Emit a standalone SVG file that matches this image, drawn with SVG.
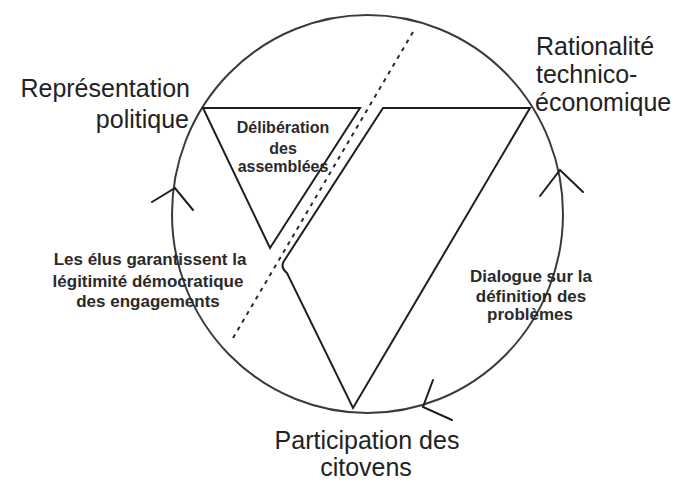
<svg xmlns="http://www.w3.org/2000/svg" width="678" height="483" viewBox="0 0 678 483">
  <style>
    .ln { fill: none; stroke: #1e1e1e; stroke-width: 2; stroke-linejoin: miter; stroke-linecap: round; }
    .circ { fill: none; stroke: #3a3a3a; stroke-width: 2; }
    .dash { fill: none; stroke: #2a2a2a; stroke-width: 2; stroke-dasharray: 4 5; }
    .big { font-family: "Liberation Sans", Arial, sans-serif; font-size: 25px; fill: #222; }
    .sm { font-family: "Liberation Sans", Arial, sans-serif; font-size: 16px; font-weight: bold; fill: #2a2a2a; text-anchor: middle; }
  </style>
  <rect width="678" height="483" fill="#ffffff"/>
  <g id="cycle">
    <ellipse class="circ" cx="367.5" cy="214" rx="195.5" ry="199"/>
  </g>
  <g id="connectors">
    <path id="triangle-deliberation" class="ln" d="M203,108 L360,108 L270,248 Z"/>
    <path id="shape-dialogue" class="ln" d="M383,108 L530,108 L353,408 L287,273 Q280,267 284,261 Z"/>
    <line class="dash" x1="413" y1="32" x2="233" y2="338"/>
    <polyline class="ln" points="152,202 175,188 193,210"/>
    <polyline class="ln" points="540,196 560,170 583,192"/>
    <polyline class="ln" points="433,380 423,407 452,420"/>
  </g>
  <g id="node-representation">
    <text class="big" x="190" y="97" text-anchor="end">Représentation</text>
    <text class="big" x="189" y="128" text-anchor="end">politique</text>
  </g>
  <g id="node-rationalite">
    <text class="big" x="536" y="55">Rationalité</text>
    <text class="big" x="536" y="83">technico-</text>
    <text class="big" x="535" y="111">économique</text>
  </g>
  <g id="node-participation">
    <text class="big" x="367" y="449" text-anchor="middle">Participation des</text>
    <text class="big" x="366" y="476" text-anchor="middle">citovens</text>
  </g>
  <g id="label-deliberation">
    <text class="sm" x="283" y="133">Délibération</text>
    <text class="sm" x="283" y="154">des</text>
    <text class="sm" x="283" y="172">assemblées</text>
  </g>
  <g id="label-elus">
    <text class="sm" x="150" y="265" style="font-size:17px">Les élus garantissent la</text>
    <text class="sm" x="148" y="287" style="font-size:17px">légitimité démocratique</text>
    <text class="sm" x="148" y="307" style="font-size:17px">des engagements</text>
  </g>
  <g id="label-dialogue">
    <text class="sm" x="531" y="282" style="font-size:17px">Dialogue sur la</text>
    <text class="sm" x="531" y="302" style="font-size:17px">définition des</text>
    <text class="sm" x="530" y="320" style="font-size:17px">problèmes</text>
  </g>
</svg>
